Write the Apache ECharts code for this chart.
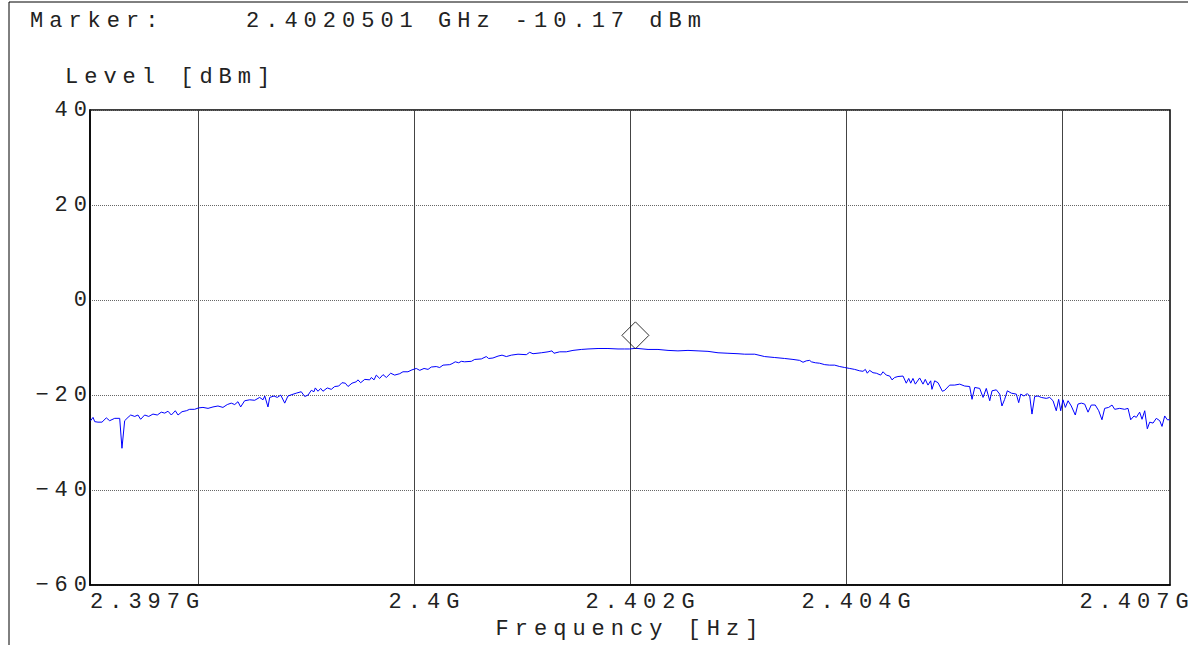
<!DOCTYPE html>
<html>
<head>
<meta charset="utf-8">
<title>Marker trace</title>
<script src="https://cdn.jsdelivr.net/npm/echarts@6/dist/echarts.min.js"></script>
<style>
  html, body { margin: 0; padding: 0; background: #fff; }
  #main { width: 1188px; height: 645px; }
  /* plotter-style wide lettering */
  #main text { letter-spacing: 6px; }
</style>
</head>
<body>
<div id="main"></div>
<script>
// frequency in MHz, level in dBm
var freqMHz = [
  2397.006, 2397.028, 2397.044, 2397.074, 2397.111, 2397.151, 2397.182, 2397.229, 2397.275, 2397.296,
  2397.321, 2397.352, 2397.377, 2397.414, 2397.444, 2397.469, 2397.506, 2397.544, 2397.583, 2397.623,
  2397.660, 2397.692, 2397.722, 2397.753, 2397.790, 2397.815, 2397.852, 2397.892, 2397.923, 2397.969,
  2398.006, 2398.046, 2398.093, 2398.139, 2398.185, 2398.231, 2398.271, 2398.308, 2398.340, 2398.370,
  2398.395, 2398.432, 2398.479, 2398.525, 2398.571, 2398.602, 2398.618, 2398.648, 2398.664, 2398.704,
  2398.734, 2398.766, 2398.803, 2398.833, 2398.870, 2398.910, 2398.956, 2398.988, 2399.019, 2399.049,
  2399.074, 2399.086, 2399.111, 2399.136, 2399.157, 2399.197, 2399.234, 2399.266, 2399.303, 2399.333,
  2399.364, 2399.389, 2399.426, 2399.466, 2399.481, 2399.506, 2399.544, 2399.590, 2399.605, 2399.630,
  2399.651, 2399.682, 2399.713, 2399.744, 2399.784, 2399.821, 2399.868, 2399.898, 2399.944, 2399.981,
  2400.021, 2400.053, 2400.093, 2400.130, 2400.160, 2400.206, 2400.238, 2400.269, 2400.331, 2400.352,
  2400.382, 2400.414, 2400.438, 2400.469, 2400.531, 2400.562, 2400.623, 2400.669, 2400.691, 2400.731,
  2400.778, 2400.815, 2400.855, 2400.901, 2400.963, 2401.040, 2401.071, 2401.102, 2401.179, 2401.241,
  2401.278, 2401.296, 2401.349, 2401.410, 2401.472, 2401.549, 2401.611, 2401.704, 2401.796, 2401.889,
  2401.951, 2401.997, 2402.050, 2402.074, 2402.167, 2402.259, 2402.352, 2402.444, 2402.537, 2402.630,
  2402.722, 2402.815, 2402.907, 2403.000, 2403.062, 2403.155, 2403.247, 2403.340, 2403.432, 2403.509,
  2403.571, 2403.602, 2403.632, 2403.664, 2403.679, 2403.716, 2403.756, 2403.803, 2403.849, 2403.895,
  2403.942, 2403.988, 2404.034, 2404.080, 2404.127, 2404.157, 2404.179, 2404.197, 2404.219, 2404.250,
  2404.281, 2404.321, 2404.343, 2404.373, 2404.405, 2404.426, 2404.451, 2404.481, 2404.528, 2404.558,
  2404.581, 2404.599, 2404.620, 2404.642, 2404.682, 2404.713, 2404.734, 2404.759, 2404.784, 2404.796,
  2404.821, 2404.852, 2404.892, 2404.914, 2404.960, 2405.006, 2405.053, 2405.099, 2405.145, 2405.167,
  2405.192, 2405.238, 2405.269, 2405.299, 2405.331, 2405.352, 2405.392, 2405.423, 2405.444, 2405.469,
  2405.494, 2405.531, 2405.577, 2405.599, 2405.618, 2405.648, 2405.679, 2405.701, 2405.722, 2405.747,
  2405.778, 2405.808, 2405.855, 2405.886, 2405.917, 2405.947, 2405.969, 2405.988, 2406.009, 2406.031,
  2406.056, 2406.086, 2406.123, 2406.148, 2406.179, 2406.210, 2406.241, 2406.271, 2406.308, 2406.340,
  2406.370, 2406.395, 2406.432, 2406.463, 2406.488, 2406.534, 2406.580, 2406.611, 2406.636, 2406.667,
  2406.688, 2406.719, 2406.741, 2406.766, 2406.790, 2406.812, 2406.843, 2406.873, 2406.905, 2406.926,
  2406.951, 2406.975, 2406.997
];
var levelDbm = [
  -25.4, -24.7, -25.6, -25.7, -25.7, -24.8, -25.4, -24.9, -24.9, -31.2,
  -25.4, -24.7, -24.2, -24.5, -24.2, -25.1, -24.2, -24.5, -24.0, -24.2,
  -23.6, -23.8, -23.4, -24.2, -23.3, -24.2, -23.5, -23.3, -23.0, -23.0,
  -22.7, -22.6, -22.8, -22.5, -22.3, -22.6, -22.0, -21.7, -22.0, -21.4,
  -22.5, -21.2, -21.0, -21.1, -20.5, -21.0, -20.2, -22.5, -20.5, -20.2,
  -20.5, -20.0, -21.7, -20.2, -19.9, -19.6, -19.3, -20.3, -20.0, -19.0,
  -19.3, -18.5, -19.2, -18.6, -19.2, -18.5, -18.8, -18.2, -18.1, -17.4,
  -17.5, -18.2, -17.5, -17.2, -16.8, -17.4, -16.7, -16.8, -16.3, -16.8,
  -15.8, -16.5, -15.7, -16.3, -15.4, -15.8, -15.5, -15.1, -15.1, -14.7,
  -14.4, -14.8, -14.4, -14.6, -14.1, -14.0, -14.2, -13.7, -13.6, -13.4,
  -13.0, -13.2, -12.9, -13.0, -12.9, -12.5, -12.4, -11.9, -12.3, -12.2,
  -11.8, -11.6, -11.9, -11.6, -11.4, -11.5, -11.0, -11.3, -11.1, -10.9,
  -10.7, -11.2, -10.9, -10.9, -10.6, -10.4, -10.3, -10.2, -10.2, -10.3,
  -10.3, -10.3, -10.17, -10.2, -10.4, -10.4, -10.6, -10.7, -10.6, -10.7,
  -10.8, -11.1, -11.2, -11.3, -11.4, -11.4, -11.9, -12.1, -12.3, -12.5,
  -12.7, -13.1, -12.8, -12.7, -13.0, -13.2, -13.3, -13.6, -13.7, -13.7,
  -14.0, -14.2, -14.4, -14.6, -14.9, -15.0, -14.6, -15.4, -14.8, -15.3,
  -15.4, -15.8, -15.1, -15.8, -16.0, -16.8, -16.3, -16.1, -16.0, -17.5,
  -16.5, -17.5, -16.5, -17.7, -16.4, -17.7, -16.7, -17.9, -17.0, -18.8,
  -17.0, -17.4, -19.2, -19.0, -17.9, -17.9, -17.7, -18.1, -18.2, -20.9,
  -18.4, -18.6, -20.5, -18.6, -21.2, -19.1, -18.9, -19.8, -22.3, -20.9,
  -19.1, -19.6, -19.8, -21.6, -19.8, -20.2, -19.7, -20.2, -24.0, -20.3,
  -20.2, -20.5, -20.7, -20.5, -21.2, -23.3, -20.9, -23.3, -21.0, -22.6,
  -21.2, -22.3, -24.2, -21.9, -21.7, -21.9, -23.6, -22.1, -22.1, -23.3,
  -25.2, -22.8, -22.6, -22.1, -23.0, -22.8, -23.0, -22.8, -25.2, -24.4,
  -24.7, -23.6, -25.1, -23.3, -27.1, -25.7, -25.9, -24.9, -25.4, -26.6,
  -24.4, -25.2, -25.2
];

// marker readout
var markerFreqMHz = [2402.0501];
var markerLevel = [-10.17];

// axis ticks
var xLabelValues = [2397, 2400, 2402, 2404, 2407];
var yTicks = [-60, -40, -20, 0, 20, 40];

var traceData = freqMHz.map(function (f, i) { return [f, levelDbm[i]]; });
var markerData = markerFreqMHz.map(function (f, i) { return [f, markerLevel[i]]; });

var FONT = 'Liberation Mono';
var FONT_SIZE = 22;
var INK = '#222';

var myChart = echarts.init(document.getElementById('main'), null, { renderer: 'svg' });

var option = {
  animation: false,
  textStyle: { fontFamily: FONT, fontSize: FONT_SIZE, color: INK },
  title: [
    {
      text: 'Marker:',
      left: 25, top: 5,
      textStyle: { fontFamily: FONT, fontSize: FONT_SIZE, fontWeight: 'normal', color: INK }
    },
    {
      text: (markerFreqMHz[0] / 1000).toFixed(7) + ' GHz ' + markerLevel[0].toFixed(2) + ' dBm',
      left: 241, top: 5,
      textStyle: { fontFamily: FONT, fontSize: FONT_SIZE, fontWeight: 'normal', color: INK }
    },
    {
      text: 'Level [dBm]',
      left: 60, top: 61,
      textStyle: { fontFamily: FONT, fontSize: FONT_SIZE, fontWeight: 'normal', color: INK }
    }
  ],
  // page frame
  graphic: [
    {
      type: 'polyline',
      shape: { points: [[9, 645], [9, 2], [1188, 2]] },
      style: { stroke: '#000', lineWidth: 1, fill: null },
      silent: true
    }
  ],
  grid: {
    left: 90, right: 18, top: 110, bottom: 58,
    show: true,
    borderColor: '#000',
    borderWidth: 1.5,
    backgroundColor: 'transparent'
  },
  xAxis: {
    type: 'value',
    min: 2397,
    max: 2407,
    interval: 1,
    name: 'Frequency [Hz]',
    nameLocation: 'middle',
    nameGap: 27,
    nameTextStyle: { fontFamily: FONT, fontSize: FONT_SIZE, color: INK },
    axisLine: { show: true, onZero: false, lineStyle: { color: '#000', width: 1.5 } },
    axisTick: { show: false },
    splitLine: {
      show: true,
      // only every second MHz gets a grid line
      lineStyle: { color: ['rgba(0,0,0,0)', '#444'], width: 1, type: 'solid' }
    },
    axisLabel: {
      margin: 6,
      alignMinLabel: 'left',
      fontFamily: FONT,
      fontSize: FONT_SIZE,
      color: INK,
      formatter: function (v) {
        if (xLabelValues.indexOf(v) < 0) return '';
        var txt = (v / 1000) + 'G';
        if (v === xLabelValues[0]) return '{first|' + txt + '}';
        if (v === xLabelValues[xLabelValues.length - 1]) return '{last|' + txt + '}';
        return '{mid|' + txt + '}';
      },
      rich: {
        first: {},
        mid: { padding: [0, 0, 0, 26] },
        last: { padding: [0, 66, 0, 0] }
      }
    }
  },
  yAxis: {
    type: 'value',
    min: yTicks[0],
    max: yTicks[yTicks.length - 1],
    interval: 20,
    axisLine: { show: true, onZero: false, lineStyle: { color: '#000', width: 1.5 } },
    axisTick: { show: false },
    splitLine: {
      show: true,
      lineStyle: { color: '#666', width: 1, type: [1, 1] }
    },
    axisLabel: {
      margin: -3,
      fontFamily: FONT,
      fontSize: FONT_SIZE,
      color: INK,
      formatter: function (v) {
        return String(v).replace('-', '\u2212');
      }
    }
  },
  series: [
    {
      name: 'Level',
      type: 'line',
      data: traceData,
      showSymbol: false,
      symbol: 'none',
      lineStyle: { color: '#0000ff', width: 1 },
      z: 3
    },
    {
      name: 'Marker',
      type: 'scatter',
      data: markerData,
      symbol: 'diamond',
      symbolSize: 27,
      symbolOffset: [0, -13],
      itemStyle: { color: 'rgba(255,255,255,0)', borderColor: '#000', borderWidth: 1 },
      z: 4
    }
  ]
};

myChart.setOption(option);

window.addEventListener('resize', function () {
  myChart.resize();
});
</script>
</body>
</html>
